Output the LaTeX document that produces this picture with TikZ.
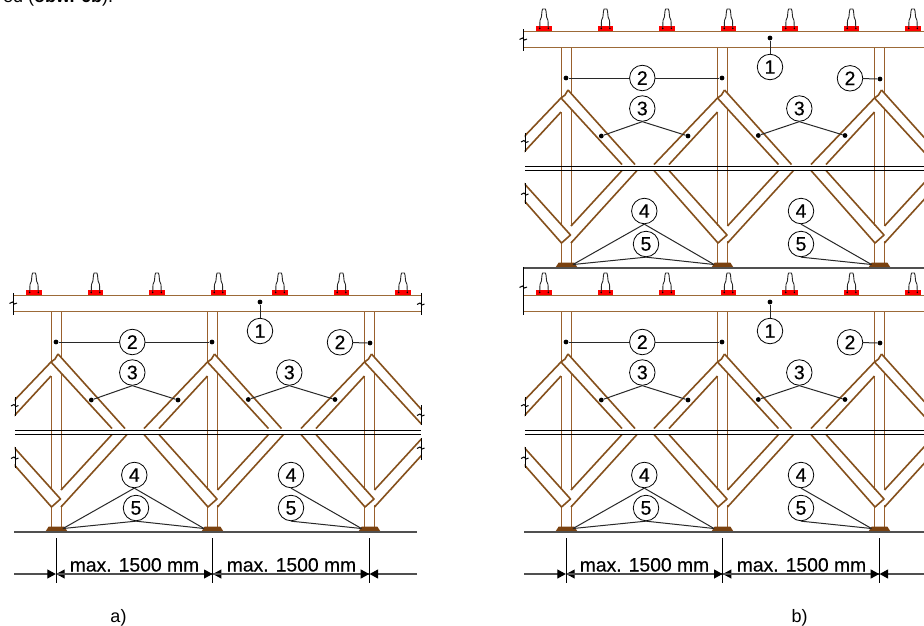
\documentclass[tikz,border=0pt]{standalone}
\usepackage{fontspec}
\setmainfont{Liberation Sans}
\newfontfamily\heavyfont[FakeBold=0.35]{Liberation Sans}
\usetikzlibrary{arrows.meta}
\definecolor{beamc}{HTML}{9C6A38}
\definecolor{postc}{HTML}{995F2C}
\definecolor{diagc}{HTML}{85501C}
\definecolor{platec}{HTML}{7A4210}
\definecolor{leadc}{HTML}{282828}
\definecolor{groundc}{HTML}{505050}
\tikzset{
  numc/.style={circle,draw=black,line width=0.8pt,fill=white,minimum size=25.5pt,inner sep=0pt,font=\heavyfont\fontsize{19.5}{20}\selectfont},
  dotn/.style={circle,fill=black,inner sep=0pt,minimum size=4.8pt},
  leader/.style={draw=leadc,line width=1pt},
  beamline/.style={draw=beamc,line width=1.4pt},
  postline/.style={draw=postc,line width=1.6pt},
  diagline/.style={draw=diagc,line width=1.6pt,line join=round},
  breakline/.style={draw=black,line width=1pt},
  dimline/.style={draw=groundc,line width=1.1pt},
  ticknode/.style={inner sep=0pt,minimum size=0pt},
  dimtext/.style={anchor=base,inner sep=0pt,font=\heavyfont\fontsize{19.3}{20}\selectfont},
  captext/.style={anchor=base,inner sep=0pt,font=\fontsize{18}{20}\selectfont},
  dimarrow/.style={-{Triangle[length=8.5pt,width=9pt,black]}},
}
\newcommand{\brkmark}[4]{% x, top, zig y, bottom
  \draw[breakline] (#1,#2) -- (#1,#4);
  \draw[breakline] ({#1-4},{#3+0.5}) -- ({#1-1},{#3-1}) -- ({#1+1},{#3+1}) -- ({#1+3.5},{#3});
}
\newcommand{\frameunit}[5]{% prefix, dx, dy, beam break top, beam break zig
\begin{scope}[shift={(#2,#3)}]
  % insulators
  \foreach \ix in {34,95.5,157,218.5,280,341.5,403}{
    \fill[red] ({\ix-7.8},290) rectangle ({\ix+7.8},295.5);
    \draw[black!85,line width=0.9pt,line join=round] ({\ix-4.3},292.5) -- ({\ix-4},284.5) -- ({\ix-2.6},281) -- ({\ix-2},275) -- ({\ix-1.4},273) -- ({\ix+1.4},273) -- ({\ix+2},275) -- ({\ix+2.6},281) -- ({\ix+4},284.5) -- ({\ix+4.3},292.5);
    \fill[black] ({\ix-4.3},292.5) circle (0.8pt) ({\ix+4.3},292.5) circle (0.8pt);
  }
  % beam
  \draw[beamline] (14,295.5) -- (421,295.5);
  \draw[beamline] (14,311.5) -- (421,311.5);
  \brkmark{13.5}{#4}{#5}{314.5}
  \brkmark{421}{293}{304}{314.5}
  % posts
  \foreach \c in {56.5,212.5,369.5}{
    \draw[postline] ({\c-5},311.5) -- ({\c-5},362) ({\c-5},376) -- ({\c-5},490) ({\c-5},506) -- ({\c-5},527);
    \draw[postline] ({\c+5},311.5) -- ({\c+5},357.5) ({\c+5},373) -- ({\c+5},490) ({\c+5},505) -- ({\c+5},527);
    \fill[platec] ({\c-11},531.5) -- ({\c-7.8},526.5) -- ({\c+7.8},526.5) -- ({\c+11},531.5) -- cycle;
  }
  % diagonals
  \begin{scope}
    \clip (14.5,340) rectangle (421,520);
    \foreach \c in {56,212.5,369.5}{
      \draw[diagline] ({\c+2},354) -- ({\c+69},428.5);
      \draw[diagline] ({\c-5},362) -- ({\c+56},428.5);
      \draw[diagline] ({\c-68.5},428.5) -- ({\c-5},362) -- ({\c-1},359) -- ({\c+2},354);
      \draw[diagline] ({\c-53.5},428.5) -- ({\c-5},376);
      \draw[diagline] ({\c+5},490) -- ({\c+56},434.5);
      \draw[diagline] ({\c+5},507) -- ({\c+71},434.5);
      \draw[diagline] ({\c-68.5},434.5) -- ({\c-4.5},507) -- ({\c+4.5},499) -- ({\c-53.5},434.5);
    }
  \end{scope}
  \brkmark{15}{397}{405.5}{415.5}
  \brkmark{15}{447}{458}{468}
  \brkmark{421}{405}{415}{425}
  \brkmark{421}{438}{448}{460}
  % double rail and ground
  \draw[black,line width=1.1pt] (15,430.5) -- (421,430.5);
  \draw[black,line width=1.1pt] (15,434.5) -- (421,434.5);
  \draw[groundc,line width=1.4pt] (14,532) -- (417,532);
  % callouts
  \node[dotn] (#1d1) at (260,302) {};
  \node[dotn] (#1d2a) at (56,342) {};
  \node[dotn] (#1d2b) at (212,342) {};
  \node[dotn] (#1d2c) at (370,343) {};
  \node[dotn] (#1d3a) at (91.3,400) {};
  \node[dotn] (#1d3b) at (178,400) {};
  \node[dotn] (#1d3c) at (248.3,399.5) {};
  \node[dotn] (#1d3d) at (335,399.5) {};
  \coordinate (#1b1) at (63,528.5);
  \coordinate (#1b2) at (204,528.5);
  \coordinate (#1b3) at (361.5,528.5);
  \node[numc] (#1c1) at (260,331) {1};
  \node[numc] (#1c2a) at (132.3,342) {2};
  \node[numc] (#1c2b) at (340,342.3) {2};
  \node[numc] (#1c3a) at (132.3,372.5) {3};
  \node[numc] (#1c3b) at (289.3,372.5) {3};
  \node[numc] (#1c4a) at (134.3,475) {4};
  \node[numc] (#1c4b) at (291,475) {4};
  \node[numc] (#1c5a) at (136,508) {5};
  \node[numc] (#1c5b) at (291,508) {5};
  \draw[leader] (#1c1) -- (#1d1);
  \draw[leader] (#1c2a) -- (#1d2a);
  \draw[leader] (#1c2a) -- (#1d2b);
  \draw[leader] (#1c2b) -- (#1d2c);
  \draw[leader] (#1c3a.south) -- (#1d3a);
  \draw[leader] (#1c3a.south) -- (#1d3b);
  \draw[leader] (#1c3b.south) -- (#1d3c);
  \draw[leader] (#1c3b.south) -- (#1d3d);
  \draw[leader] (#1c4a.south) -- (#1b1);
  \draw[leader] (#1c4a.south) -- (#1b2);
  \draw[leader] (#1c4b.south) -- (#1b3);
  \draw[leader] (#1c5a.south) -- (#1b1);
  \draw[leader] (#1c5a.south) -- (#1b2);
  \draw[leader] (#1c5b.south) -- (#1b3);
\end{scope}
}
\newcommand{\dimset}[2]{% prefix, dx
\begin{scope}[shift={(#2,0)}]
  \node[ticknode] (#1t1) at (56,574) {};
  \node[ticknode] (#1t2) at (212.7,574) {};
  \node[ticknode] (#1t3) at (369.4,574) {};
  \coordinate (#1e0) at (14,574);
  \coordinate (#1e1) at (417,574);
  \draw[dimline,dimarrow] (#1e0) -- (#1t1);
  \draw[dimline,dimarrow] (#1t2) -- (#1t1);
  \draw[dimline,dimarrow] (#1t1) -- (#1t2);
  \draw[dimline,dimarrow] (#1t3) -- (#1t2);
  \draw[dimline,dimarrow] (#1t2) -- (#1t3);
  \draw[dimline,dimarrow] (#1e1) -- (#1t3);
  \draw[black,line width=1pt] (56,538) -- (56,583) (212.7,538) -- (212.7,583) (369.4,538) -- (369.4,583);
  \node[dimtext] (#1l1) at (134.5,571.5) {max. 1500 mm};
  \node[dimtext] (#1l2) at (291.5,571.5) {max. 1500 mm};
\end{scope}
}
\begin{document}
\begin{tikzpicture}[x=1pt,y=-1pt]
\useasboundingbox (0,0) rectangle (924,625);
\fill[white] (0,0) rectangle (924,625);
\clip (0,0) rectangle (924,625);
\node[anchor=base west,inner sep=0pt,font=\fontsize{18}{20}\selectfont] (topnote) at (3,2.5) {ed (\textbf{obw. 6b}).};
\frameunit{a}{0}{0}{293}{303}
\dimset{a}{0}
\frameunit{u}{510}{-264}{293}{303}
\frameunit{l}{510}{0}{267}{287}
\dimset{l}{510}
\node[captext] (capa) at (118.5,622) {a)};
\node[captext] (capb) at (799.5,622) {b)};
\end{tikzpicture}
\end{document}
